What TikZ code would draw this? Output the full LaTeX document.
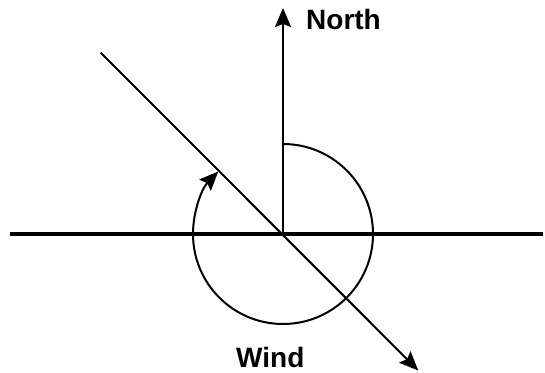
\documentclass[tikz,border=0pt]{standalone}
\usepackage{fontspec}
\setmainfont{Liberation Sans}
\usetikzlibrary{arrows.meta}
\begin{document}
\begin{tikzpicture}[x=1pt,y=1pt,
  lbl/.style={font=\fontsize{28}{30}\selectfont\bfseries, inner sep=0pt, text depth=0pt},
  thin line/.style={line width=2pt},
  tip/.style={-{Stealth[length=19pt,width=16pt,inset=3pt]}}]
\useasboundingbox (0,0) rectangle (545,372);
\coordinate (C) at (283,138);
\coordinate (L) at (10,138);
\coordinate (R) at (543,138);
\coordinate (Ntip) at (283,364);
\coordinate (Dstart) at (100.7,319.3);
\coordinate (Dend) at (418.3,1.5);
\draw[line width=4pt] (L) -- (R);
\draw[thin line, tip] (C) -- (Ntip);
\draw[thin line, tip] (Dstart) -- (Dend);
\draw[thin line, tip] ([shift={(90:90)}]C) arc[start angle=90, end angle=-224, radius=90];
\node[lbl, anchor=base west] (north) at (306,342.7) {North};
\node[lbl, anchor=base west] (wind) at (236,5) {Wind};
\end{tikzpicture}
\end{document}
